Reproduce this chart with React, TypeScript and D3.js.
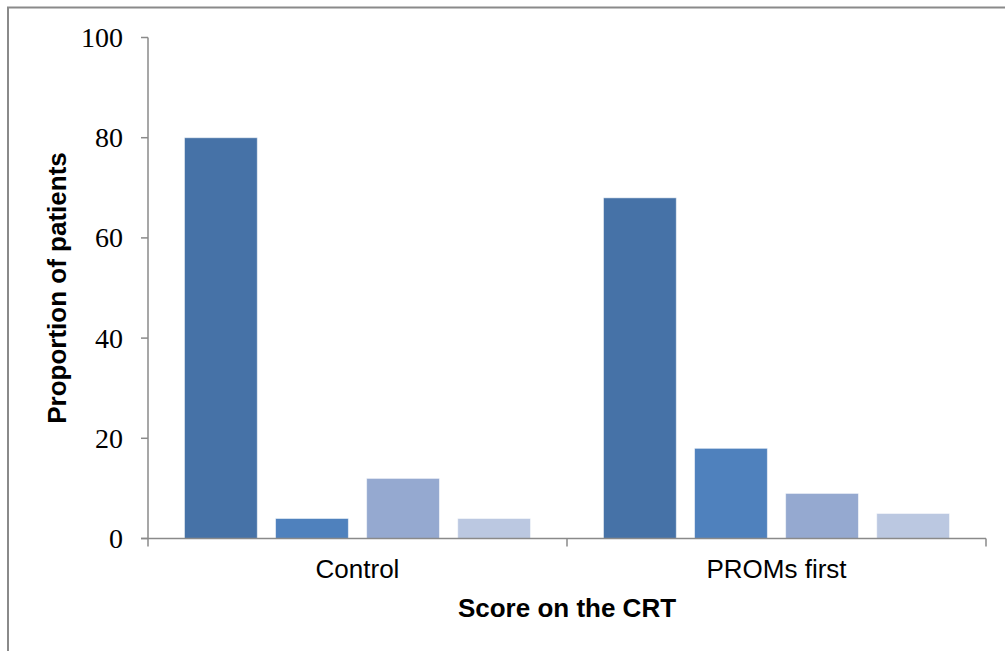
import React from 'react';
import * as d3 from 'd3';

// categories on the x axis
const categories = ['Control', 'PROMs first'];
// one series per CRT score level (no legend in the original)
const seriesNames = ['Score A', 'Score B', 'Score C', 'Score D'];
const seriesColors = ['#4672A7', '#4F81BD', '#95A9D0', '#BBC8E1'];
// proportion of patients, series x category
const controlValues = [80, 4, 12, 4];
const promsFirstValues = [68, 18, 9, 5];
const yTicks = [0, 20, 40, 60, 80, 100];

const W = 1005;
const H = 651;
const margin = { top: 37.5, right: 19, bottom: 112.5, left: 148 };

const App: React.FC = () => {
    const plotW = W - margin.left - margin.right;
    const plotH = H - margin.top - margin.bottom;

    const values = [controlValues, promsFirstValues];

    const x0 = d3.scaleBand<string>()
        .domain(categories)
        .range([0, plotW])
        .padding(0);

    const catW = x0.bandwidth();
    const outer = catW * 0.087;
    const x1 = d3.scaleBand<string>()
        .domain(seriesNames)
        .range([outer, catW - outer])
        .paddingInner(0.2)
        .paddingOuter(0);

    const y = d3.scaleLinear().domain([0, 100]).range([plotH, 0]);

    const axisColor = '#8a8a8a';
    const sans = '"Liberation Sans", Arial, sans-serif';
    const serif = '"Liberation Serif", "Times New Roman", serif';

    // category boundary ticks on the x axis
    const xTickPos = [0, ...categories.map(c => (x0(c) ?? 0) + catW)];

    return (
        <svg
            width={W}
            height={H}
            style={{ position: 'absolute', left: 0, top: 0, background: '#fff' }}
        >
            {/* chart frame, clipped at the right and bottom */}
            <rect x={8} y={7.5} width={W + 10} height={H + 10} fill="none" stroke={axisColor} strokeWidth={2} />

            <g transform={`translate(${margin.left},${margin.top})`}>
                {/* bars */}
                {categories.map((c, ci) => (
                    <g key={c} transform={`translate(${x0(c)},0)`}>
                        {seriesNames.map((s, si) => (
                            <rect
                                key={s}
                                x={x1(s)}
                                y={y(values[ci][si])}
                                width={x1.bandwidth()}
                                height={plotH - y(values[ci][si])}
                                fill={seriesColors[si]}
                                stroke="rgba(255,255,255,0.55)"
                                strokeWidth={1}
                            />
                        ))}
                    </g>
                ))}

                {/* y axis */}
                <line x1={0} x2={0} y1={0} y2={plotH} stroke={axisColor} strokeWidth={1.5} />
                {yTicks.map(t => (
                    <g key={t} transform={`translate(0,${y(t)})`}>
                        <line x1={-7} x2={0} stroke={axisColor} strokeWidth={1.5} />
                        <text
                            x={-25}
                            dy="0.34em"
                            textAnchor="end"
                            fontFamily={serif}
                            fontSize={28}
                            fill="#000"
                        >
                            {t}
                        </text>
                    </g>
                ))}

                {/* x axis */}
                <line x1={-7} x2={plotW} y1={plotH} y2={plotH} stroke={axisColor} strokeWidth={1.5} />
                {xTickPos.map((p, i) => (
                    <line key={i} x1={p} x2={p} y1={plotH} y2={plotH + 8} stroke={axisColor} strokeWidth={1.5} />
                ))}
                {categories.map(c => (
                    <text
                        key={c}
                        x={(x0(c) ?? 0) + catW / 2}
                        y={plotH + 39.5}
                        textAnchor="middle"
                        fontFamily={sans}
                        fontSize={26}
                        fill="#000"
                    >
                        {c}
                    </text>
                ))}
            </g>

            {/* axis titles */}
            <text
                x={margin.left + plotW / 2}
                y={617}
                textAnchor="middle"
                fontFamily={sans}
                fontSize={26}
                fontWeight="bold"
                fill="#000"
            >
                Score on the CRT
            </text>
            <text
                transform={`translate(66,288) rotate(-90)`}
                textAnchor="middle"
                fontFamily={sans}
                fontSize={26}
                fontWeight="bold"
                fill="#000"
            >
                Proportion of patients
            </text>
        </svg>
    );
};

export default App;
